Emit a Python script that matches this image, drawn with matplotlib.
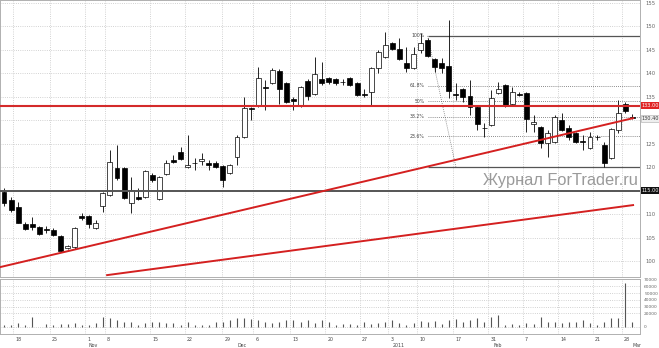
import matplotlib
matplotlib.use('Agg')
import matplotlib.pyplot as plt
from matplotlib.patches import Rectangle
import matplotlib.transforms as mtransforms

# ---------------- data ----------------
opens = [114.7, 113.0, 111.5, 107.9, 107.9, 107.2, 106.7, 106.6, 105.3, 102.8,
         103.0, 109.6, 109.6, 107.0, 111.7, 114.0, 119.8, 119.8, 112.3, 113.6,
         113.6, 118.3, 113.2, 118.5, 121.5, 123.2, 120.0, 120.9, 121.3, 120.9,
         120.9, 120.2, 118.7, 122.1, 126.4, 132.6, 133.0, 137.0, 137.9, 140.4,
         137.9, 134.5, 133.2, 138.3, 135.5, 138.7, 138.9, 138.7, 138.1, 138.9,
         137.9, 135.5, 136.0, 141.1, 143.4, 146.4, 145.1, 142.1, 141.1, 144.9,
         147.0, 143.0, 142.1, 141.5, 135.5, 136.6, 135.1, 132.8, 128.3, 128.9,
         135.7, 137.4, 133.4, 135.5, 135.7, 129.2, 128.5, 125.1, 125.3, 130.0,
         128.3, 127.2, 125.5, 124.0, 126.4, 124.7, 121.9, 127.9, 133.4, 130.6]
highs = [115.5, 113.6, 112.6, 108.3, 109.4, 107.4, 107.4, 107.0, 105.5, 103.4,
         107.2, 110.2, 109.8, 108.7, 114.7, 123.6, 124.7, 120.0, 117.9, 115.5,
         119.4, 118.7, 118.1, 121.5, 122.6, 124.3, 126.8, 121.9, 123.0, 121.5,
         121.3, 120.4, 120.6, 126.8, 134.9, 132.8, 141.3, 138.5, 141.1, 140.9,
         138.1, 134.9, 137.2, 138.7, 143.4, 142.3, 139.2, 138.9, 138.7, 139.2,
         138.1, 136.6, 141.3, 144.9, 148.7, 146.6, 147.5, 145.5, 145.5, 148.5,
         147.5, 143.2, 143.2, 151.3, 137.9, 136.8, 138.5, 133.2, 129.4, 136.4,
         138.1, 137.7, 137.0, 136.0, 136.0, 131.1, 128.7, 127.9, 131.1, 131.5,
         128.9, 127.4, 126.8, 127.4, 126.8, 125.3, 128.3, 134.3, 133.8, 131.3]
lows = [111.7, 110.4, 108.1, 106.6, 106.6, 105.5, 106.0, 105.3, 101.9, 102.5,
        102.6, 108.7, 107.0, 106.8, 110.4, 113.8, 117.2, 113.2, 110.2, 113.0,
        113.4, 116.8, 113.0, 118.3, 120.9, 121.5, 119.8, 119.4, 120.4, 119.4,
        119.8, 115.7, 118.5, 120.4, 126.2, 130.0, 132.8, 132.1, 137.7, 133.4,
        133.6, 132.1, 132.8, 134.3, 135.3, 137.4, 137.7, 137.4, 137.4, 137.2,
        135.1, 134.9, 133.2, 140.0, 143.2, 144.9, 142.8, 140.2, 140.9, 144.3,
        143.4, 140.2, 140.0, 134.7, 134.3, 133.8, 131.1, 127.9, 126.4, 128.7,
        135.5, 132.8, 133.0, 135.1, 127.4, 127.4, 124.0, 122.1, 125.1, 127.7,
        125.8, 125.1, 123.6, 123.8, 125.8, 120.0, 121.7, 127.2, 131.5, 130.2]
closes = [112.3, 110.9, 108.1, 106.8, 107.2, 105.7, 106.6, 105.5, 102.1, 103.2,
          107.0, 109.2, 107.9, 108.1, 114.5, 121.1, 117.7, 113.4, 115.1, 113.2,
          119.1, 117.2, 117.9, 120.9, 121.1, 121.7, 120.4, 120.8, 121.7, 120.4,
          120.0, 117.2, 120.4, 126.4, 132.6, 132.4, 138.9, 136.9, 140.6, 136.6,
          133.8, 134.0, 137.0, 135.1, 139.8, 137.9, 138.1, 137.9, 138.0, 137.4,
          135.3, 135.4, 141.1, 144.5, 146.0, 145.1, 143.0, 141.1, 144.1, 146.4,
          143.6, 141.3, 141.1, 136.2, 135.4, 134.9, 132.8, 129.2, 128.2, 134.7,
          136.6, 133.0, 136.0, 135.4, 130.2, 129.6, 125.1, 127.2, 130.6, 127.9,
          126.4, 125.3, 125.4, 126.4, 126.3, 120.9, 128.1, 131.5, 131.9, 130.5]
volumes = [2900, 2900, 5400, 2900, 15200, 500, 3900, 2900, 3900, 3900,
           5400, 2900, 2900, 5400, 15200, 13900, 10300, 7800, 7800, 2900,
           5400, 7800, 7800, 5400, 5400, 2900, 7800, 2900, 2900, 2900,
           7800, 7800, 10300, 12700, 12700, 11500, 10300, 7800, 5400, 7800,
           10300, 10300, 7800, 10300, 5400, 10300, 7800, 2900, 3900, 3900,
           2900, 7800, 3900, 5400, 7800, 10300, 6600, 2900, 5400, 8800,
           7800, 8800, 3900, 10300, 11500, 7800, 10300, 12700, 7800, 15200,
           17600, 2900, 3900, 2900, 5400, 3900, 15200, 7800, 7800, 5400,
           7800, 7800, 10300, 5400, 2900, 7800, 12700, 13900, 64000, 7800]

date_ticks = [1.3, 6.5, 11.5, 14.3, 20.7, 25.6, 30.9, 35.3, 40.5, 45.5,
              50.4, 54.4, 58.5, 63.6, 68.6, 73.5, 78.5, 83.4, 87.5]
date_labels = ["18", "25", "1", "8", "15", "22", "29", "6", "13", "20",
               "27", "3", "10", "17", "31", "7", "14", "21", "28"]
month_pos = [11.9, 33.0, 55.1, 69.3, 88.95]
month_labels = ["Nov", "Dec", "2011", "Feb", "Mar"]

price_ticks = [100, 105, 110, 115, 120, 125, 130, 135, 140, 145, 150, 155]
vol_ticks = [0, 20000, 30000, 40000, 50000, 60000, 70000]

resistance = 133.0
support = 115.0
trend1_x, trend1_y = [-0.57, 89.1], [98.7, 130.4]
trend2_x, trend2_y = [14.6, 89.1], [97.0, 111.9]
fib_start, fib_end_diag = 60.0, 64.0
fib_high, fib_low = 147.9, 120.0
fib_levels = [0.618, 0.5, 0.382, 0.236]
fib_texts = ["61.8%", "50%", "38.2%", "23.6%"]

# ---------------- figure ----------------
W, H = 659, 348
fig = plt.figure(figsize=(W / 100, H / 100), dpi=100)
fig.patch.set_facecolor('white')

ax = fig.add_axes([0, 71 / H, 640 / W, 277 / H])
axv = fig.add_axes([0, 14 / H, 640 / W, 55 / H])

XMIN, XMAX = -0.57, 90.08
for a in (ax, axv):
    a.set_xlim(XMIN, XMAX)
    for s in a.spines.values():
        s.set_color('#b0b0b0')
        s.set_linewidth(0.7)
    a.set_xticks(date_ticks)
    a.tick_params(axis='x', length=0, labelbottom=False)
    a.grid(True, linestyle=':', color='#c4c4c4', linewidth=0.6)
    a.set_axisbelow(True)

ax.set_ylim(96.6, 155.54)
ax.yaxis.tick_right()
ax.set_yticks(price_ticks)
# labels hidden where value boxes sit on the axis
ax.set_yticklabels(['' if v in (115, 130) else str(v) for v in price_ticks])
ax.tick_params(axis='y', length=0, pad=4, labelsize=3.8, labelcolor='#666666')

# candles
for i, (o, h, l, c) in enumerate(zip(opens, highs, lows, closes)):
    ax.vlines(i, l, h, color='black', linewidth=0.6, zorder=3)
    bottom = min(o, c)
    height = max(abs(c - o), 0.12)
    fc = 'white' if c > o else 'black'
    ax.add_patch(Rectangle((i - 0.35, bottom), 0.7, height, facecolor=fc,
                           edgecolor='black', linewidth=0.5, zorder=4))

# horizontal levels
ax.axhline(resistance, color='#d42a2a', linewidth=1.5, zorder=5)
ax.axhline(support, color='#555555', linewidth=1.4, zorder=5)

# trend lines
ax.plot(trend1_x, trend1_y, color='#d42020', linewidth=1.4, zorder=5)
ax.plot(trend2_x, trend2_y, color='#d42020', linewidth=1.4, zorder=5)

# fibonacci
ax.hlines([fib_high, fib_low], fib_start, XMAX, color='#555555', linewidth=0.9, zorder=2)
ax.plot([fib_start, fib_end_diag], [fib_high, fib_low], color='#777777',
        linewidth=0.6, linestyle=(0, (1, 1.5)), zorder=2)
ax.text(fib_start - 0.4, fib_high, "100%", fontsize=3.3, color='#444444',
        ha='right', va='center')
for lv, t in zip(fib_levels, fib_texts):
    y = fib_low + lv * (fib_high - fib_low)
    ax.hlines(y, fib_start, XMAX, color='#666666', linewidth=0.6,
              linestyle=(0, (1, 1.5)), zorder=2)
    ax.text(fib_start - 0.4, y, t, fontsize=3.3, color='#444444',
            ha='right', va='center')

# right-side value boxes
trans = mtransforms.blended_transform_factory(ax.transAxes, ax.transData)
ax.text(1.0 + 1.5 / 640, resistance, "133.00", transform=trans, fontsize=3.6,
        color='white', ha='left', va='center', clip_on=False, zorder=10,
        bbox=dict(boxstyle='square,pad=0.2', fc='#e02424', ec='none'))
ax.text(1.0 + 1.5 / 640, trend1_y[1], "130.40", transform=trans, fontsize=3.6,
        color='#333333', ha='left', va='center', clip_on=False, zorder=10,
        bbox=dict(boxstyle='square,pad=0.2', fc='#eeeeee', ec='#aaaaaa', lw=0.4))
ax.text(1.0 + 1.5 / 640, support, "115.00", transform=trans, fontsize=3.6,
        color='white', ha='left', va='center', clip_on=False, zorder=10,
        bbox=dict(boxstyle='square,pad=0.2', fc='#111111', ec='none'))

# watermark
fig.text(483 / W, 1 - 180 / H, "Журнал ForTrader.ru", fontsize=11.8,
         color='#9a9a9a', ha='left', va='center', family='Liberation Sans')

# volume
axv.set_ylim(-10300, 70600)
axv.vlines(range(len(volumes)), 0, volumes, color='#555555', linewidth=0.8)
axv.yaxis.tick_right()
axv.set_yticks(vol_ticks)
axv.set_yticklabels([str(v) for v in vol_ticks])
axv.tick_params(axis='y', length=0, pad=3, labelsize=3.2, labelcolor='#666666')

vtrans = mtransforms.blended_transform_factory(axv.transData, axv.transAxes)
for x, t in zip(date_ticks, date_labels):
    axv.text(x + 0.3, -0.05, t, transform=vtrans, fontsize=3.4, color='#444444',
             ha='left', va='top', clip_on=False)
for x, t in zip(month_pos, month_labels):
    axv.text(x, -0.17, t, transform=vtrans, fontsize=3.4, color='#444444',
             ha='left', va='top', clip_on=False)

fig.savefig('out.png', dpi=100, facecolor='white')
